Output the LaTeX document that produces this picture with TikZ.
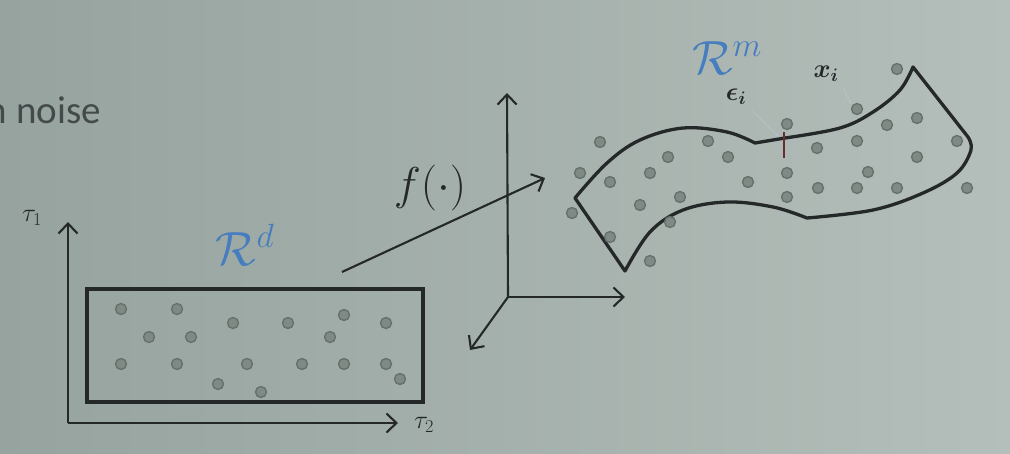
\RequirePackage{fix-cm}
\documentclass[tikz,border=0pt]{standalone}
\usepackage{amsmath,bm}
\usepackage{fontspec}
\newfontfamily\slidefont{Carlito}
\usetikzlibrary{arrows.meta}
\definecolor{bgL}{RGB}{150,163,158}
\definecolor{bgR}{RGB}{180,190,186}
\definecolor{ink}{RGB}{36,40,40}
\definecolor{dotfill}{RGB}{128,138,133}
\definecolor{dotline}{RGB}{100,110,106}
\definecolor{calblue}{RGB}{70,125,190}
\definecolor{leadcol}{RGB}{180,194,199}
\definecolor{tickcol}{RGB}{105,45,45}
\definecolor{txtcol}{RGB}{68,74,74}
\begin{document}
\begin{tikzpicture}[x=1pt,y=-1pt,
  axisline/.style={draw=ink,line width=2.1pt,-{Straight Barb[length=10pt,width=19pt]}},
  outline/.style={draw=ink,line width=3.3pt,line join=round},
  sdot/.style={fill=dotfill,draw=dotline,line width=1.3pt},
  leaderline/.style={draw=leadcol,line width=0.9pt,-{Stealth[length=4pt,width=3pt]}},
  mathlabel/.style={ink,font=\fontsize{26}{30}\selectfont},
  bigcal/.style={calblue,font=\fontsize{48}{54}\selectfont}]
\useasboundingbox (0,0) rectangle (1010,453);
\shade[left color=bgL,right color=bgR] (0,0) rectangle (1010,453);

% partial slide text
\node[txtcol,font=\slidefont\fontsize{39}{44}\selectfont,anchor=base east,inner sep=0pt] (noise) at (101,123) {n noise};

% 2D axes
\coordinate (A) at (68,423);
\coordinate (Ay) at (68,222);
\coordinate (Ax) at (398,423);
\draw[axisline] (A) -- (Ay);
\draw[axisline] (A) -- (Ax);
\node[mathlabel] (tau1) at (32,218) {$\tau_1$};
\node[mathlabel] (tau2) at (424,425) {$\tau_2$};

% domain rectangle
\node[draw=ink,line width=3.8pt,minimum width=336pt,minimum height=113pt,inner sep=0pt] (box) at (255,345.5) {};
\node[bigcal] (Rd) at (245,245) {$\mathcal{R}^d$};
\foreach \p in {(121,309),(177,309),(233,323),(288,323),(344,315),(386,323),
                (149,337),(191,337),(330,337),
                (121,364),(177,364),(247,364),(302,364),(344,364),(386,364),
                (400,379),(218,384),(261,392)}
  \filldraw[sdot] \p circle[radius=5.5];

% mapping arrow
\coordinate (fs) at (342,272);
\coordinate (fe) at (545,178);
\draw[axisline] (fs) -- (fe);
\node[ink,font=\fontsize{46}{52}\selectfont] (flab) at (430,188) {$f(\cdot)$};

% 3D axes
\coordinate (O) at (508,297);
\coordinate (Oz) at (507,93);
\coordinate (Ox) at (625,297);
\coordinate (Oy) at (470,350);
\draw[axisline] (O) -- (Oz);
\draw[axisline] (O) -- (Ox);
\draw[axisline] (O) -- (Oy);

% manifold
\draw[outline] plot[smooth,tension=0.6] coordinates {(575,198) (607,163) (640,140) (683,128) (727,132) (755,143)}
  -- (785,138)
  -- plot[smooth,tension=0.6] coordinates {(785,138) (840,128) (873,112) (900,90) (913,67)}
  -- (968,137)
  -- plot[smooth,tension=0.6] coordinates {(968,137) (971,150) (957,173) (923,193) (873,210) (807,218)}
  -- plot[smooth,tension=0.6] coordinates {(807,218) (773,207) (727,202) (683,210) (650,232) (625,271)}
  -- cycle;
\node[bigcal] (Rm) at (727,58) {$\mathcal{R}^m$};
\foreach \p in {(897,69),(600,142),(708,141),(787,124),(857,109),(887,125),(917,118),
                (668,157),(728,157),(817,148),(857,141),(957,141),(917,157),
                (580,173),(610,182),(650,173),(748,182),(787,173),(868,172),
                (680,197),(787,197),(818,188),(857,188),(897,188),(967,188),
                (640,205),(572,213),(670,222),(610,237),(650,261)}
  \filldraw[sdot] \p circle[radius=5.5];

% noise tick and labels
\coordinate (tickA) at (784,132);
\coordinate (tickB) at (784,158);
\draw[tickcol,line width=1.8pt] (tickA) -- (tickB);
\node[mathlabel] (eps) at (736,97) {$\bm{\epsilon_i}$};
\node[mathlabel] (xi) at (826,74) {$\bm{x_i}$};
\coordinate (epsend) at (779,137);
\coordinate (xend) at (851,104);
\draw[leaderline,shorten <=4pt] (eps.south east) -- (epsend);
\draw[leaderline,shorten <=3pt] (xi.south east) -- (xend);
\end{tikzpicture}
\end{document}
